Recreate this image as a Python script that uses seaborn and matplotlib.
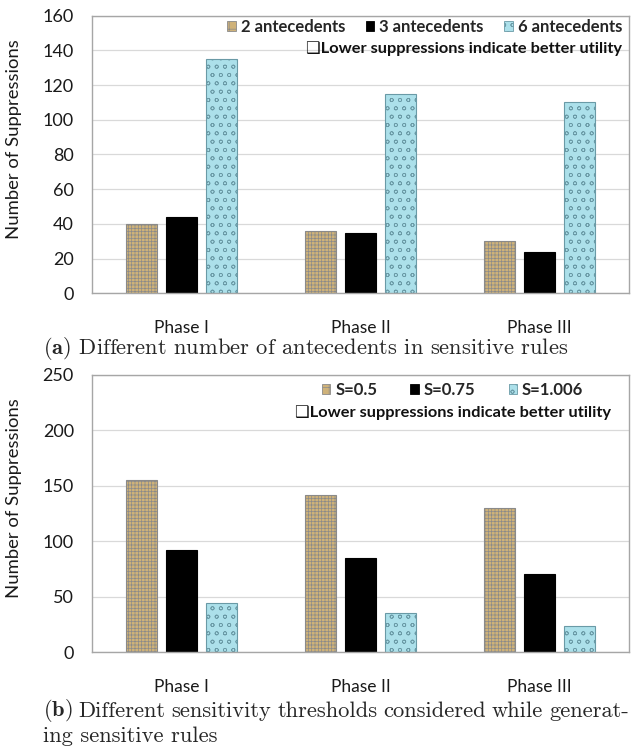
import matplotlib
matplotlib.use("Agg")
import matplotlib.pyplot as plt
from matplotlib.patches import Patch
import seaborn as sns
import pandas as pd

# ---- data -------------------------------------------------------------
phases = ["Phase I", "Phase II", "Phase III"]

series_a = ["2 antecedents", "3 antecedents", "6 antecedents"]
ante_2 = [40, 36, 30]
ante_3 = [44, 35, 24]
ante_6 = [135, 115, 110]

series_b = ["S=0.5", "S=0.75", "S=1.006"]
s_05 = [155, 142, 130]
s_075 = [92, 85, 71]
s_1006 = [44, 35, 24]

note_text = "\u2751Lower suppressions indicate better utility"
caption_a = r"$\mathbf{(a)}$ Different number of antecedents in sensitive rules"
caption_b1 = r"$\mathbf{(b)}$ Different sensitivity thresholds considered while generat-"
caption_b2 = "ing sensitive rules"

# ---- styling ----------------------------------------------------------
sns.set_theme(style="white")
plt.rcParams["font.family"] = ["Lato", "DejaVu Sans"]
plt.rcParams["mathtext.fontset"] = "cm"
plt.rcParams["hatch.linewidth"] = 0.5

face = ["#cfb279", "#000000", "#ace0ea"]
edge = ["#8a8a8a", "#000000", "#6a9aa6"]
hatch = ["+++++", None, "oo"]
hatch_col = ["#9c7d45", None, "#7fc3d3"]

GRID = "#d9d9d9"
SPINE = "#a6a6a6"
TXT = "#1a1a1a"
CAP_SIZE = 16.2


def long_frame(names, cols):
    rows = []
    for name, vals in zip(names, cols):
        for ph, v in zip(phases, vals):
            rows.append({"phase": ph, "series": name, "value": v})
    return pd.DataFrame(rows)


def style_bars(ax, names):
    n = len(phases)
    for i, bar in enumerate(ax.patches[: n * len(names)]):
        k = i // n
        bar.set_facecolor(face[k])
        bar.set_edgecolor(edge[k])
        bar.set_linewidth(0.8)
        if hatch[k]:
            bar.set_hatch(hatch[k])
            try:
                bar.set_hatchcolor(hatch_col[k])
            except AttributeError:
                pass


def legend_handles():
    hs = []
    for k in range(3):
        p = Patch(facecolor=face[k], edgecolor=edge[k], linewidth=0.6)
        if hatch[k]:
            p.set_hatch(hatch[k][:2])
            try:
                p.set_hatchcolor(hatch_col[k])
            except AttributeError:
                pass
        hs.append(p)
    return hs


def panel(ax, names, cols, ymax, ystep, leg_anchor, colspace, note_xy):
    df = long_frame(names, cols)
    sns.barplot(data=df, x="phase", y="value", hue="series", order=phases,
                hue_order=names, width=0.67, gap=0.21, legend=False,
                palette=face, ax=ax, saturation=1)
    style_bars(ax, names)
    ax.set_xlim(-0.5, 2.5)
    ax.set_ylim(0, ymax)
    ax.set_yticks(range(0, ymax + 1, ystep))
    ax.yaxis.grid(True, color=GRID, linewidth=0.9)
    ax.set_axisbelow(True)
    for s in ax.spines.values():
        s.set_visible(True)
        s.set_color(SPINE)
        s.set_linewidth(1.0)
    ax.tick_params(axis="y", length=0, pad=13, labelsize=13, labelcolor=TXT)
    ax.tick_params(axis="x", length=0, pad=19, labelsize=12.5, labelcolor=TXT)
    ax.set_xlabel("")
    ax.set_ylabel("Number of Suppressions", fontsize=13.3, color=TXT)
    ax.yaxis.set_label_coords(-0.130, 0.556)
    ax.legend(legend_handles(), names, ncol=3, loc="center right",
              bbox_to_anchor=leg_anchor, frameon=False, borderaxespad=0,
              borderpad=0, handlelength=0.5, handleheight=0.5,
              handletextpad=0.3, columnspacing=colspace,
              prop={"family": ["Lato", "DejaVu Sans"], "weight": "bold", "size": 12})
    ax.text(note_xy[0], note_xy[1], note_text, transform=ax.transAxes,
            ha="right", va="center", fontsize=11.8, fontweight="bold",
            family=["Lato", "DejaVu Sans"], color="#111111")


def justified_line(fig, text, x0_px, x1_px, y_px, size):
    """Place the words of one caption line so that they fill [x0, x1]."""
    words = text.split(" ")
    renderer = fig.canvas.get_renderer()
    W, H = fig.bbox.width, fig.bbox.height
    objs, widths = [], []
    for w in words:
        t = fig.text(0, 1 - y_px / H, w, family="cmr10", fontsize=size,
                     va="center", ha="left")
        objs.append(t)
        widths.append(t.get_window_extent(renderer).width)
    gap = (x1_px - x0_px - sum(widths)) / max(len(words) - 1, 1)
    x = x0_px
    for t, wdt in zip(objs, widths):
        t.set_x(x / W)
        x += wdt + gap


fig = plt.figure(figsize=(6.37, 7.47), dpi=100)
ax_a = fig.add_axes([0.1444, 0.6074, 0.843, 0.3716])
ax_b = fig.add_axes([0.1444, 0.1268, 0.843, 0.3712])

panel(ax_a, series_a, [ante_2, ante_3, ante_6], 160, 20,
      (0.987, 0.960), 1.25, (0.987, 0.880))
panel(ax_b, series_b, [s_05, s_075, s_1006], 250, 50,
      (0.915, 0.946), 2.0, (0.966, 0.864))

cap_x = 43 / 637
fig.text(cap_x, 1 - 349 / 747, caption_a, family="cmr10", fontsize=CAP_SIZE,
         va="center", ha="left")
justified_line(fig, caption_b1, 43, 629, 711, CAP_SIZE)
fig.text(cap_x, 1 - 736 / 747, caption_b2, family="cmr10", fontsize=CAP_SIZE,
         va="center", ha="left")

fig.savefig("out.png", dpi=100, facecolor="white")
